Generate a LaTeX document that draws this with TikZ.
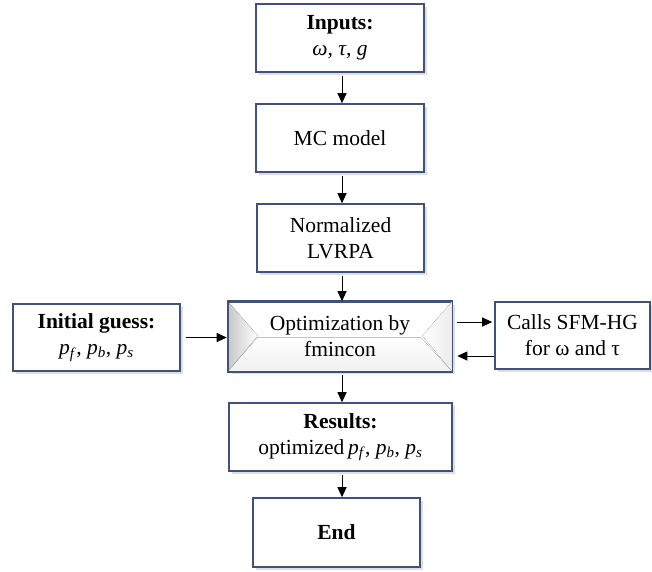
\documentclass[tikz,border=0pt]{standalone}
\usepackage{fontspec}
\setmainfont{Liberation Serif}
\usetikzlibrary{arrows.meta}
\definecolor{boxline}{RGB}{62,82,122}
\newcommand{\psb}[1]{\textit{p}\textsubscript{\textit{#1}}}
\begin{document}
\begin{tikzpicture}[x=1pt,y=-1pt,
  fbox/.style={draw=boxline,line width=1.6pt,fill=white,align=center,inner sep=0pt,
    font=\fontsize{21.5}{26}\selectfont},
  shad/.style={fill=black,opacity=0.13},
  conn/.style={line width=1pt,-{Triangle[length=10pt,width=9pt]}}]
\useasboundingbox (0,0) rectangle (652,571);
% manual shadows
\foreach \cx/\cy/\w/\h in {340/38/168/68, 340/138/168/68, 340.5/238/167/68, 340/336.5/223/69,
  96.5/337.5/167/67, 572.5/335.5/155/67, 340.5/437/223/68, 336.5/532.5/167/69}{
  \fill[shad] (\cx-\w/2+3,\cy-\h/2+3) rectangle (\cx+\w/2+3,\cy+\h/2+3);
}
\node[fbox,minimum width=168pt,minimum height=68pt] (inp) at (340,38) {\textbf{Inputs:}\\\textit{ω, τ, g}};
\node[fbox,minimum width=168pt,minimum height=68pt] (mc) at (340,138) {MC model};
\node[fbox,minimum width=167pt,minimum height=68pt] (norm) at (340.5,238) {Normalized\\LVRPA};
\node[fbox,minimum width=223pt,minimum height=69pt] (opt) at (340,336.5) {};
% bevel shading
\fill[left color=black!22,right color=white] (opt.north west) -- ++(30,34.5) -- (opt.south west) -- cycle;
\fill[left color=white,right color=black!8] (opt.north east) -- ++(-30,34.5) -- (opt.south east) -- cycle;
\fill[top color=white,bottom color=black!6] (opt.south west) -- ++(30,-34.5) -- ++(163,0) -- (opt.south east) -- cycle;
\draw[boxline,line width=1.6pt] (opt.north west) rectangle (opt.south east);
\node[align=center,font=\fontsize{21.5}{26}\selectfont] (optt) at (opt.center) {Optimization by\\fmincon};
\node[fbox,minimum width=167pt,minimum height=67pt] (init) at (96.5,337.5) {\textbf{Initial guess:}\\\psb{f}, \psb{b}, \psb{s}};
\node[fbox,minimum width=155pt,minimum height=67pt] (calls) at (572.5,335.5) {Calls SFM-HG\\for ω and τ};
\node[fbox,minimum width=223pt,minimum height=68pt] (res) at (340.5,437) {\textbf{Results:}\\optimized\,\psb{f}, \psb{b}, \psb{s}};
\node[fbox,minimum width=167pt,minimum height=69pt] (end) at (336.5,532.5) {\textbf{End}};
\draw[conn,shorten <=3pt] (inp.south -| 342,0) -- (mc.north -| 342,0);
\draw[conn,shorten <=3pt] (mc.south -| 342,0) -- (norm.north -| 342,0);
\draw[conn,shorten <=3pt] (norm.south -| 342,0) -- (opt.north -| 342,0);
\draw[conn,shorten <=3pt] (opt.south -| 342,0) -- (res.north -| 342,0);
\draw[conn,shorten <=3pt] (res.south -| 342,0) -- (end.north -| 342,0);
\draw[conn,shorten <=5pt,shorten >=1pt] (init.east) -- (init.east -| opt.west);
\coordinate (u) at (0,322);
\coordinate (l) at (0,356);
\draw[conn,shorten <=5pt,shorten >=2pt] (opt.east |- u) -- (calls.west |- u);
\draw[conn,shorten >=5pt] (calls.west |- l) -- (opt.east |- l);
\end{tikzpicture}
\end{document}
